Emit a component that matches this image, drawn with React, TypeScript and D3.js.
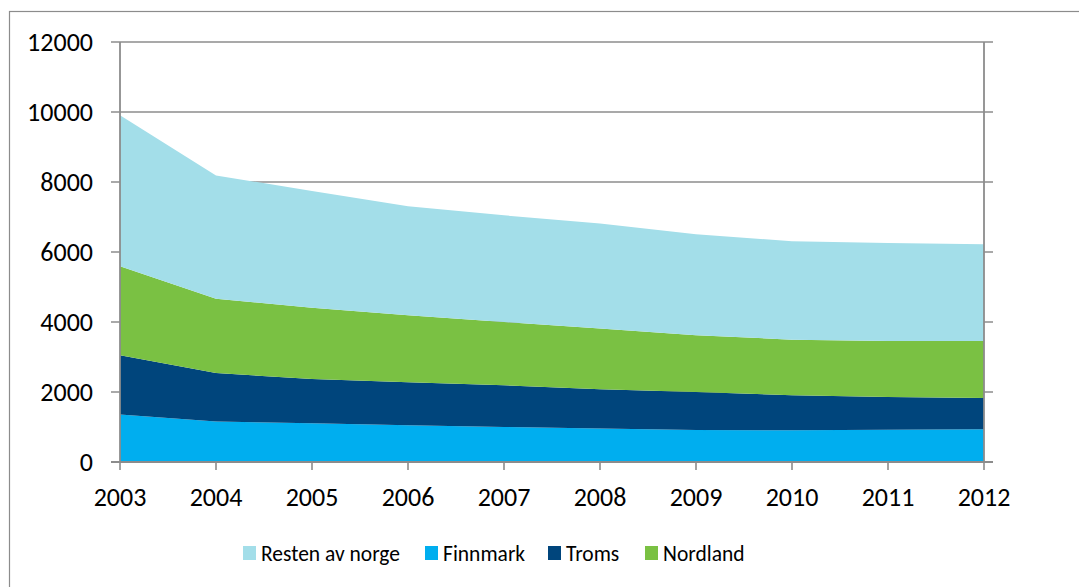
import React from 'react';
import * as d3 from 'd3';

const years = [2003, 2004, 2005, 2006, 2007, 2008, 2009, 2010, 2011, 2012];
const finnmark = [1360, 1160, 1105, 1050, 1000, 955, 915, 905, 925, 935];
const troms = [1690, 1380, 1265, 1228, 1191, 1123, 1086, 1000, 931, 895];
const nordland = [2542, 2125, 2040, 1914, 1809, 1734, 1620, 1591, 1600, 1628];
const resten = [4315, 3523, 3332, 3115, 3049, 3000, 2886, 2809, 2800, 2763];
const yTicks = [0, 2000, 4000, 6000, 8000, 10000, 12000];

// stacking order bottom -> top
const seriesKeys = ['Finnmark', 'Troms', 'Nordland', 'Resten av norge'];
const colors: Record<string, string> = {
  Finnmark: '#00AEEF',
  Troms: '#00457C',
  Nordland: '#7AC143',
  'Resten av norge': '#A3DEE9',
};
const legendOrder = ['Resten av norge', 'Finnmark', 'Troms', 'Nordland'];

const width = 1079;
const height = 587;
const margin = { top: 42, right: 95, bottom: 125, left: 120 };
const font = "Calibri, Carlito, Lato, 'Liberation Sans', Arial, sans-serif";
const grey = '#8C8C8C';

const App: React.FC = () => {
  const rows = years.map((y, i) => ({
    year: y,
    Finnmark: finnmark[i],
    Troms: troms[i],
    Nordland: nordland[i],
    'Resten av norge': resten[i],
  }));

  const stacked = d3.stack<any>().keys(seriesKeys)(rows);

  const x = d3
    .scaleLinear()
    .domain([2003, 2012])
    .range([margin.left, width - margin.right]);
  const y = d3
    .scaleLinear()
    .domain([0, 12000])
    .range([height - margin.bottom, margin.top]);

  const area = d3
    .area<any>()
    .x((d) => x(d.data.year))
    .y0((d) => y(d[0]))
    .y1((d) => y(d[1]));

  const x0 = x(2003);
  const x1 = x(2012);
  const yBottom = y(0);
  const yTop = y(12000);

  const legendItems = [
    { key: legendOrder[0], x: 243 },
    { key: legendOrder[1], x: 425 },
    { key: legendOrder[2], x: 548 },
    { key: legendOrder[3], x: 645 },
  ];

  return (
    <svg
      width={width}
      height={height}
      style={{ position: 'absolute', left: 0, top: 0, background: '#fff' }}
      fontFamily={font}
    >
      <rect x={9.5} y={11.5} width={1200} height={700} fill="#fff" stroke={grey} strokeWidth={1.2} />

      {/* gridlines */}
      {yTicks.map((t) => (
        <line key={t} x1={x0 - 9} x2={x1 + 9} y1={y(t)} y2={y(t)} stroke={grey} strokeWidth={1.6} />
      ))}

      {/* areas */}
      {stacked.map((s) => (
        <path key={s.key} d={area(s) || ''} fill={colors[s.key]} />
      ))}

      {/* axes */}
      <line x1={x0} x2={x0} y1={yTop} y2={yBottom} stroke={grey} strokeWidth={1.8} />
      <line x1={x1} x2={x1} y1={yTop} y2={yBottom} stroke={grey} strokeWidth={1.8} />
      <line x1={x0 - 9} x2={x1 + 9} y1={yBottom} y2={yBottom} stroke={grey} strokeWidth={1.8} />
      {years.map((yr) => (
        <line key={yr} x1={x(yr)} x2={x(yr)} y1={yBottom} y2={yBottom + 8} stroke={grey} strokeWidth={1.6} />
      ))}

      {/* y labels */}
      {yTicks.map((t) => (
        <text key={t} x={93} y={y(t)} dy="0.35em" textAnchor="end" fontSize={26} fill="#000">
          {t}
        </text>
      ))}

      {/* x labels */}
      {years.map((yr) => (
        <text key={yr} x={x(yr)} y={506} textAnchor="middle" fontSize={26} fill="#000">
          {yr}
        </text>
      ))}

      {/* legend */}
      {legendItems.map((it) => (
        <g key={it.key}>
          <rect x={it.x} y={546} width={13} height={14} fill={colors[it.key]} />
          <text x={it.x + 18} y={561} fontSize={21.5} fill="#000">
            {it.key}
          </text>
        </g>
      ))}
    </svg>
  );
};

export default App;
